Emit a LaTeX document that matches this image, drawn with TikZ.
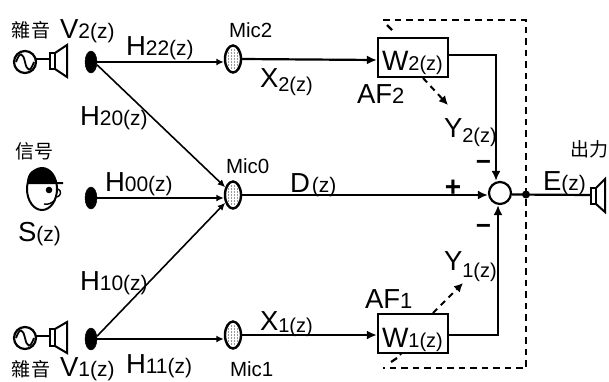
\documentclass[tikz,border=0pt]{standalone}
\usepackage{fontspec}
\setmainfont{Liberation Sans}
\newfontfamily\cjkf{Noto Sans CJK TC}
\usetikzlibrary{shapes.geometric,arrows.meta}
\newcommand{\fbig}{\fontsize{27.5}{30}\selectfont}
\newcommand{\fsml}{\fontsize{21}{24}\selectfont}
\newcommand{\fmic}{\fontsize{20.5}{24}\selectfont}
\newcommand{\fcjk}{\fontsize{19}{22}\selectfont\cjkf}
\newcommand{\bs}[2]{{\fbig #1}{\fsml #2}}
\newcommand{\bsl}[3]{{\fbig #1}\raisebox{#3}{\fontsize{20}{24}\selectfont #2}}
\newcommand{\micdots}[2]{%
  \foreach \dx in {-4,-1,2,5}{\foreach \dy in {-9,-6,-3,0,3,6,9}{
    \fill[black!80] (#1+\dx-0.5,#2+\dy) circle (0.55);}}}
\tikzset{
  lab/.style={anchor=base west,inner sep=0pt,outer sep=0pt,text=black},
  srcdot/.style={ellipse,fill=black,draw=black,minimum width=12pt,minimum height=22pt,inner sep=0pt},
  micn/.style={ellipse,draw=black,line width=2.4pt,minimum width=16pt,minimum height=27pt,inner sep=0pt},
  filt/.style={rectangle,draw=black,line width=2.3pt,minimum width=70pt,minimum height=38.5pt,inner sep=0pt},
  sumn/.style={circle,draw=black,line width=2.2pt,fill=white,minimum size=22pt,inner sep=0pt},
  thin1/.style={line width=1.6pt,-{Latex[length=7.5pt,width=7pt]}},
  thick1/.style={line width=2.2pt},
  thick2/.style={line width=2.2pt,-{Latex[length=10pt,width=9pt]}},
  dashl/.style={line width=2.2pt,dash pattern=on 6.5pt off 5pt},
  dasharr/.style={line width=2pt,dash pattern=on 6pt off 5pt,-{Latex[length=9pt,width=9pt]}},
  spk/.style={line width=2pt,line join=miter,draw=black},
}
\begin{document}
\begin{tikzpicture}[x=1pt,y=-1pt]
\useasboundingbox (0,0) rectangle (609,381);
% feedback dashed
\coordinate (dA) at (383,20);
\coordinate (dB) at (526,20);
\coordinate (dC) at (526,368);
\coordinate (dD) at (383,368);
\draw[dashl] (dA) -- (dB) -- (dC) -- (dD);
\draw[line width=2.2pt] (387,25) -- (392,30);
\draw[line width=2.2pt] (391,362) -- (397,358);
\draw[line width=1.6pt] (400,355) -- (402,353);
% nodes
\node[srcdot] (s2) at (91,62) {};
\node[srcdot] (s0) at (91,198) {};
\node[srcdot] (s1) at (91,339) {};
\micdots{233}{59}\micdots{233}{195}\micdots{233}{335}
\node[micn] (m2) at (233,59) {};
\node[micn] (m0) at (233,195) {};
\node[micn] (m1) at (233,335) {};
\node[filt] (w2) at (413,57.5) {};
\node[filt] (w1) at (413,333.5) {};
\node[sumn] (sum) at (500,193) {};
\node[circle,fill=black,inner sep=0pt,minimum size=8pt] (tap) at (526,194.5) {};
% connectors
\draw[thin1] (s2.east) -- (m2.west |- s2.east);
\draw[thin1] (s2.-25) -- (m0.135);
\draw[thin1] (s0.east) -- (m0.west |- s0.east);
\draw[thin1] (s1.25) -- (m0.-135);
\draw[thin1] (s1.east) -- (m1.west |- s1.east);
\draw[thick2] (m2.east) -- ([yshift=-2.5pt]w2.west);
\draw[thick2] (m1.east) -- ([yshift=-1.5pt]w1.west);
\draw[thick2] (m0.east) -- (sum.west |- m0.east);
\coordinate (c2) at (496,55);
\coordinate (c1) at (498,335);
\draw[thick2] ([yshift=2.5pt]w2.east) -- (c2) -- (c2 |- sum.north);
\draw[thick2] ([yshift=-1.5pt]w1.east) -- (c1) -- (c1 |- sum.south);
\coordinate (spkin) at (591,195);
\draw[thick1] (sum.east |- tap) -- (spkin);
\coordinate (y2e) at (448,105);
\coordinate (y1e) at (463,283);
\draw[dasharr] (423,78) -- (y2e);
\draw[dasharr] (433,313) -- (y1e);
% output speaker
\draw[spk] (591,188) rectangle (596,204);
\draw[spk] (596,188) -- (605,179) -- (605,212) -- (596,204);
% noise sources
\foreach \cy/\ly/\n in {62/59/a,338/336/b}{
  \draw[line width=2.2pt] (25,\cy) circle (11);
  \draw[line width=1.8pt] (16,\cy) .. controls (20,\cy-11) and (23,\cy-9) .. (25,\cy) .. controls (27,\cy+9) and (30,\cy+11) .. (34,\cy);
  \draw[line width=2.2pt] (36,\ly) -- (50,\ly);
}
\draw[spk] (50,53) rectangle (55,69);
\draw[spk] (55,53) -- (67,45) -- (67,77) -- (55,69);
\draw[spk] (50,329) rectangle (55,346);
\draw[spk] (55,329) -- (67,322) -- (67,353) -- (55,346);
% person
\draw[line width=2pt] (42,189) ellipse (15 and 21);
\fill (27,183) .. controls (27,172) and (34,168) .. (42,168) .. controls (50,168) and (55,173) .. (56,182) -- (63,182) -- (63,184) -- (27,184) -- cycle;
\fill (49,190) circle (3.3);
\draw[line width=1.4pt] (44,204) .. controls (48,205) and (52,203) .. (55,200);
\draw[line width=1.4pt] (58,189) .. controls (62,191) and (61,196) .. (57,197);
% labels
\node[lab] (tn2) at (12,37) {\fcjk 雜音};
\node[lab] (tv2) at (60,38) {\bs{V}{2(z)}};
\node[lab] (th22) at (126,55) {\bs{H}{22(z)}};
\node[lab] (th20) at (80,125) {\bs{H}{20(z)}};
\node[lab] (tsig) at (15,158) {\fcjk 信号};
\node[lab] (th00) at (105,191) {\bs{H}{00(z)}};
\node[lab] (ts) at (18,241) {\bs{S}{(z)}};
\node[lab] (th10) at (80,290) {\bs{H}{10(z)}};
\node[lab] (tn1) at (12,376) {\fcjk 雜音};
\node[lab] (tv1) at (60,376) {\bs{V}{1(z)}};
\node[lab] (th11) at (126,373) {\bs{H}{11(z)}};
\node[lab] (tm2) at (229,37) {\fmic Mic2};
\node[lab] (tm0) at (226,173) {\fmic Mic0};
\node[lab] (tm1) at (230,376) {\fmic Mic1};
\node[lab] (tx2) at (260,87) {\bsl{X}{2(z)}{-4pt}};
\node[lab] (tx1) at (260,330) {\bsl{X}{1(z)}{-2pt}};
\node[lab] (td) at (290,192) {{\fbig D}\hspace{2pt}{\fsml (z)}};
\node[lab] (tw2) at (382,70) {{\fontsize{28}{30}\selectfont W}{\fontsize{20}{24}\selectfont 2(z)}};
\node[lab] (tw1) at (382,347) {{\fontsize{28}{30}\selectfont W}{\fontsize{20}{24}\selectfont 1(z)}};
\node[lab] (taf2) at (357,103) {{\fbig AF}{\fontsize{22}{24}\selectfont 2}};
\node[lab] (taf1) at (365,308) {{\fbig AF}{\fontsize{22}{24}\selectfont 1}};
\node[lab] (ty2) at (444,137) {\bsl{Y}{2(z)}{-5pt}};
\node[lab] (ty1) at (444,270) {\bsl{Y}{1(z)}{-7pt}};
\node[lab] (te) at (543,190) {\bs{E}{(z)}};
\node[lab] (tout) at (570,156) {\fcjk 出力};
\node[inner sep=0pt,font=\fontsize{26}{28}\selectfont\bfseries] (tmin2) at (483.5,165) {−};
\node[inner sep=0pt,font=\fontsize{26}{28}\selectfont\bfseries] (tmin1) at (483.5,229) {−};
\node[inner sep=0pt,font=\fontsize{28}{30}\selectfont\bfseries] (tplus) at (453,188) {+};
\end{tikzpicture}
\end{document}
